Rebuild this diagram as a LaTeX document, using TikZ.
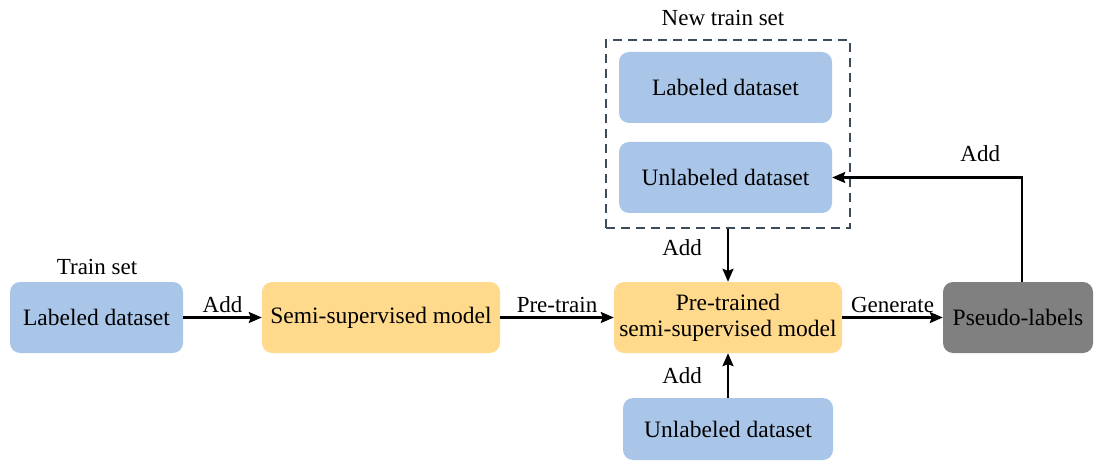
\documentclass[tikz,border=0pt]{standalone}
\usepackage{fontspec}
\setmainfont{Liberation Serif}
\usetikzlibrary{arrows.meta,calc}
\definecolor{boxblue}{RGB}{169,198,232}
\definecolor{boxorange}{RGB}{255,217,140}
\definecolor{boxgray}{RGB}{128,128,128}
\definecolor{dashc}{RGB}{60,76,92}
\tikzset{
  base/.style={rectangle, rounded corners=10pt, inner sep=2pt, align=center, font=\fontsize{23.5}{26}\selectfont},
  bluebox/.style={base, fill=boxblue},
  orangebox/.style={base, fill=boxorange},
  graybox/.style={base, fill=boxgray},
  lbl/.style={font=\fontsize{23}{26}\selectfont, inner sep=1pt},
  conn/.style={line width=2.2pt, -{Stealth[length=13pt,width=11pt,inset=2pt]}},
}
\begin{document}
\begin{tikzpicture}[x=1pt,y=-1pt]
\useasboundingbox (0,0) rectangle (1097,462);
\node[bluebox, minimum width=173pt, minimum height=71pt] (lab) at (96.5,317.5) {Labeled dataset};
\node[lbl] (trainset) at (97,267) {Train set};
\node[orangebox, minimum width=238pt, minimum height=71pt] (semi) at (381,317.5) {Semi-supervised model};
\node[orangebox, minimum width=228pt, minimum height=71pt] (pre) at (728,317.5) {Pre-trained\\semi-supervised model};
\node[graybox, minimum width=150pt, minimum height=71pt] (pseudo) at (1018,317.5) {Pseudo-labels};
\node[bluebox, minimum width=210pt, minimum height=62pt] (unlb) at (728,429) {Unlabeled dataset};
\node[draw=dashc, line width=2.2pt, dash pattern=on 9pt off 6pt, minimum width=244pt, minimum height=188pt, inner sep=0pt] (newset) at (728,134) {};
\node[lbl] (newlabel) at (723,18) {New train set};
\node[bluebox, minimum width=213pt, minimum height=71pt] (labt) at (725.5,87.5) {Labeled dataset};
\node[bluebox, minimum width=213pt, minimum height=71pt] (unlt) at (725.5,177.5) {Unlabeled dataset};

\draw[conn] (lab) -- node[lbl, above=3pt] {Add} (semi);
\draw[conn] (semi) -- node[lbl, above=3pt] {Pre-train} (pre);
\draw[conn] (pre) -- node[lbl, above=3pt] {Generate} (pseudo);
\draw[conn] (newset.south) -- node[lbl, left=24pt, yshift=8pt] {Add} (pre.north);
\draw[conn] (unlb.north) -- node[lbl, left=24pt] {Add} (pre.south);
\draw[conn] ($(pseudo.north)+(4,0)$) |- node[lbl, pos=0.61, above=14pt] {Add} (unlt.east);
\end{tikzpicture}
\end{document}
